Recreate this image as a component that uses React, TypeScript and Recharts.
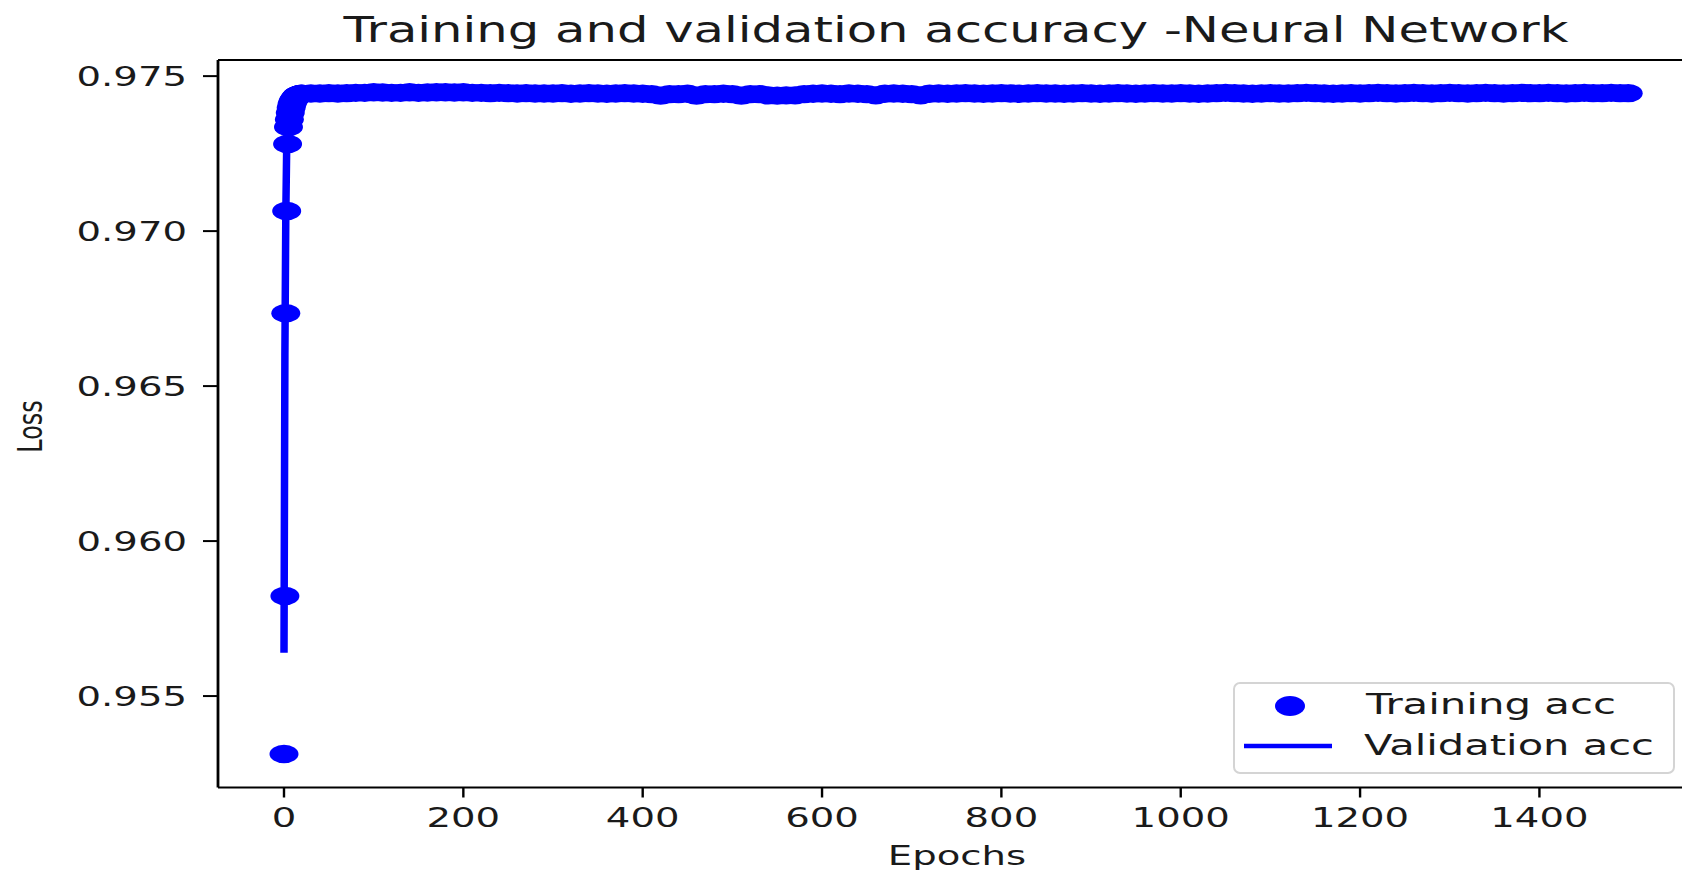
import { ComposedChart, Scatter, Line, XAxis, YAxis, Legend, Label } from "recharts";

// Training accuracy, one value per epoch while it climbs (epochs 0..19)
const trainEarlyAcc = [
  0.95313, 0.95823, 0.96735, 0.97065, 0.97281, 0.97336, 0.9736, 0.97382, 0.97398, 0.9741,
  0.97418, 0.97424, 0.97428, 0.97432, 0.97436, 0.97438, 0.9744, 0.97441, 0.97442, 0.97443,
];

// Training accuracy on the plateau, every 10th epoch from 20 to 1490
const trainPlateauAcc = [
  0.97443, 0.97444, 0.97444, 0.97445, 0.97444, 0.97445, 0.97446, 0.97446,
  0.97448, 0.97447, 0.97446, 0.97446, 0.97448, 0.97446, 0.97447, 0.97448, 0.97448, 0.97447,
  0.97448, 0.97446, 0.97446, 0.97445, 0.97446, 0.97445, 0.97444, 0.97445, 0.97444, 0.97444,
  0.97444, 0.97445, 0.97443, 0.97444, 0.97445, 0.97444, 0.97443, 0.97444, 0.97445, 0.97444,
  0.97443, 0.97442, 0.97437, 0.97442, 0.97442, 0.97443, 0.97437, 0.97442, 0.97442, 0.97443,
  0.97442, 0.97437, 0.97442, 0.97442, 0.97438, 0.97437, 0.97438, 0.97438, 0.97442, 0.97443,
  0.97444, 0.97443, 0.97442, 0.97444, 0.97443, 0.97442, 0.97438, 0.97443, 0.97444, 0.97443,
  0.97442, 0.97438, 0.97443, 0.97444, 0.97443, 0.97444, 0.97445, 0.97444, 0.97443, 0.97444,
  0.97445, 0.97444, 0.97443, 0.97444, 0.97445, 0.97444, 0.97444, 0.97443, 0.97444, 0.97445,
  0.97444, 0.97443, 0.97444, 0.97445, 0.97444, 0.97443, 0.97444, 0.97445, 0.97444, 0.97444,
  0.97445, 0.97444, 0.97443, 0.97444, 0.97445, 0.97446, 0.97445, 0.97444, 0.97443, 0.97444,
  0.97445, 0.97444, 0.97444, 0.97445, 0.97446, 0.97445, 0.97444, 0.97443, 0.97444, 0.97445,
  0.97444, 0.97445, 0.97446, 0.97445, 0.97444, 0.97445, 0.97446, 0.97445, 0.97444, 0.97445,
  0.97446, 0.97445, 0.97444, 0.97445, 0.97446, 0.97445, 0.97444, 0.97445, 0.97446, 0.97445,
  0.97445, 0.97446, 0.97445, 0.97444, 0.97445, 0.97446, 0.97445, 0.97445, 0.97446, 0.97445,
];
const trainLastEpoch = 1499;
const trainLastAcc = 0.97445;

// Validation accuracy
const valEpochs = [0, 1, 2, 3, 4, 5, 6, 8, 10, 15, 20, 50, 100, 200, 300, 400, 500, 600, 700, 800, 900, 1000, 1100, 1200, 1300, 1400, 1499];
const valAcc = [
  0.9564, 0.966, 0.9705, 0.9727, 0.9735, 0.9739, 0.9741, 0.9743, 0.97438, 0.97442, 0.97444,
  0.97444, 0.97446, 0.97446, 0.97444, 0.97443, 0.97442, 0.97443, 0.97443, 0.97444, 0.97444,
  0.97444, 0.97445, 0.97445, 0.97445, 0.97445, 0.97445,
];

const xTicks = [0, 200, 400, 600, 800, 1000, 1200, 1400];
const yTicks = [0.955, 0.96, 0.965, 0.97, 0.975];

const trainData = [
  ...trainEarlyAcc.map((acc, i) => ({ epoch: i, acc })),
  ...trainPlateauAcc.map((acc, i) => ({ epoch: 20 + i * 10, acc })),
  { epoch: trainLastEpoch, acc: trainLastAcc },
];
const valData = valEpochs.map((epoch, i) => ({ epoch, acc: valAcc[i] }));

const BLUE = "#0000ff";
const INK = "#1a1a1a";
const FONT = "'DejaVu Sans', sans-serif";
// the figure is stretched sideways, so glyphs are widened too
const SX = 1.43;

function WideText({ x, y, size, anchor = "start", children, length }: any) {
  return (
    <text
      transform={`translate(${x},${y}) scale(${length ? 1 : SX},1)`}
      fontFamily={FONT}
      fontSize={size}
      fill={INK}
      textAnchor={anchor}
      textLength={length}
      lengthAdjust={length ? "spacingAndGlyphs" : undefined}
    >
      {children}
    </text>
  );
}

const EllipseDot = (p: any) => <ellipse cx={p.cx} cy={p.cy} rx={14.5} ry={9.2} fill={BLUE} />;

const YTick = (p: any) => (
  <WideText x={p.x} y={p.y + 9.8} size={27} anchor="end">
    {Number(p.payload.value).toFixed(3)}
  </WideText>
);

const XTick = (p: any) => (
  <WideText x={p.x} y={p.y + 29.5} size={27} anchor="middle">
    {p.payload.value}
  </WideText>
);

function LegendBox() {
  return (
    <svg width={444} height={94} style={{ display: "block" }}>
      <rect x={1} y={1} width={440} height={90} rx={6} fill="#fff" stroke="#d4d4d4" strokeWidth={2} />
      <ellipse cx={57} cy={24} rx={15} ry={10} fill={BLUE} />
      <line x1={11} x2={99} y1={64} y2={64} stroke={BLUE} strokeWidth={4.5} />
      <WideText x={133} y={32} size={28} length={250}>Training acc</WideText>
      <WideText x={131} y={73} size={28} length={290}>Validation acc</WideText>
    </svg>
  );
}

export default function App() {
  return (
    <div style={{ position: "absolute", left: 0, top: 0, width: 1682, height: 870, background: "#fff" }}>
      <ComposedChart width={1682} height={870} margin={{ top: 59, right: 0, bottom: 0, left: 0 }}>
        {/* top spine, carries the title */}
        <XAxis
          xAxisId="top"
          orientation="top"
          type="number"
          domain={[-73.6, 1559]}
          allowDataOverflow
          height={1}
          tick={false}
          tickLine={false}
          axisLine={{ stroke: "#000", strokeWidth: 2 }}
        >
          <Label
            content={() => (
              <WideText x={956} y={42} size={35} anchor="middle" length={1225}>
                Training and validation accuracy -Neural Network
              </WideText>
            )}
          />
        </XAxis>
        <XAxis
          dataKey="epoch"
          type="number"
          domain={[-73.6, 1559]}
          allowDataOverflow
          ticks={xTicks}
          height={82.5}
          tickSize={10}
          tickMargin={0}
          tick={<XTick />}
          tickLine={{ stroke: "#000", strokeWidth: 2.4 }}
          axisLine={{ stroke: "#000", strokeWidth: 2 }}
        >
          <Label
            content={() => (
              <WideText x={957} y={865} size={27} anchor="middle">
                Epochs
              </WideText>
            )}
          />
        </XAxis>
        <YAxis
          dataKey="acc"
          type="number"
          domain={[0.95205, 0.97552]}
          allowDataOverflow
          ticks={yTicks}
          width={218}
          tickSize={15}
          tickMargin={16}
          tick={<YTick />}
          tickLine={{ stroke: "#000", strokeWidth: 2 }}
          axisLine={{ stroke: "#000", strokeWidth: 2.8 }}
        >
          <Label
            content={() => (
              <text
                transform={`translate(30,426.5) scale(${SX},1) rotate(-90)`}
                fontFamily={FONT}
                fontSize={24}
                fill={INK}
                textAnchor="middle"
                y={8.7}
              >
                Loss
              </text>
            )}
          />
        </YAxis>
        <Scatter name="Training acc" data={trainData} dataKey="acc" fill={BLUE} shape={EllipseDot} isAnimationActive={false} />
        <Line
          name="Validation acc"
          data={valData}
          dataKey="acc"
          type="linear"
          stroke={BLUE}
          strokeWidth={7.5}
          dot={false}
          isAnimationActive={false}
        />
        <Legend
          layout="horizontal"
          verticalAlign="middle"
          align="center"
          wrapperStyle={{ left: 1233, top: 682, width: 444, height: 94 }}
          content={() => <LegendBox />}
        />
      </ComposedChart>
    </div>
  );
}
